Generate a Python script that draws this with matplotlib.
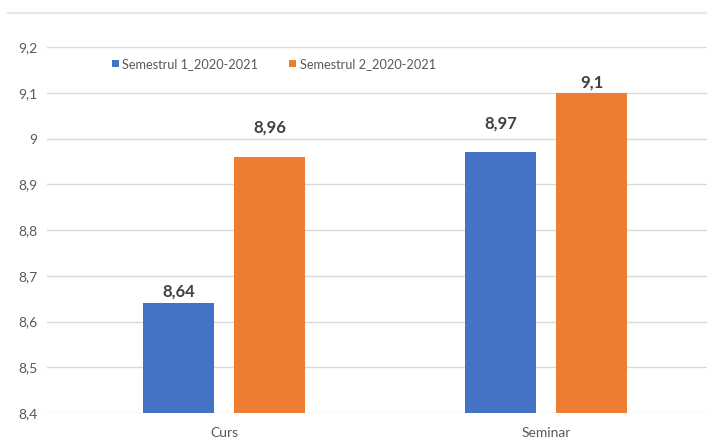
import matplotlib.pyplot as plt
import numpy as np

plt.rcParams['font.family'] = ['Lato', 'DejaVu Sans']

categories = ['Curs', 'Seminar']
series_names = ['Semestrul 1_2020-2021', 'Semestrul 2_2020-2021']
sem1 = [8.64, 8.97]
sem2 = [8.96, 9.1]
yticks = [8.4, 8.5, 8.6, 8.7, 8.8, 8.9, 9.0, 9.1, 9.2]

# label offsets above each bar (points), as placed in the original
sem1_label_off = [3, 15]
sem2_label_off = [15, 1.5]


def fmt(v):
    return ('%g' % v).replace('.', ',')


def main():
    fig = plt.figure(figsize=(7.07, 4.47), dpi=100)
    ax = fig.add_axes([47 / 707, 1 - 413 / 447, 1 - 47 / 707, 366 / 447])

    x = np.arange(len(categories))
    w = 0.22
    off = 0.1415
    colors = ['#4472C4', '#ED7D31']
    for vals, offs, name, dx, c in [
            (sem1, sem1_label_off, series_names[0], -off, colors[0]),
            (sem2, sem2_label_off, series_names[1], off, colors[1])]:
        bars = ax.bar(x + dx, np.array(vals) - 8.4, w, bottom=8.4,
                      color=c, label=name, zorder=3)
        for b, v, o in zip(bars, vals, offs):
            ax.annotate(fmt(v), (b.get_x() + b.get_width() / 2, v),
                        xytext=(0, o), textcoords='offset points',
                        ha='center', va='bottom', fontsize=12,
                        fontweight='bold', color='#404040')

    ax.set_ylim(8.4, 9.2)
    ax.set_xlim(-0.55, 1.5)
    ax.set_yticks(yticks)
    ax.set_yticklabels([fmt(t) for t in yticks])
    ax.set_xticks(x)
    ax.set_xticklabels(categories)
    ax.tick_params(axis='both', length=0, colors='#595959', labelsize=10)
    ax.tick_params(axis='y', pad=7)
    ax.tick_params(axis='x', pad=10)
    ax.grid(axis='y', color='#D9D9D9', linewidth=1, zorder=0)
    for s in ax.spines.values():
        s.set_visible(False)

    fig.add_artist(plt.Line2D([8 / 707, 1], [1 - 13 / 447] * 2,
                              color='#E6E6E6', linewidth=1.5))

    fig.legend(loc='center left', bbox_to_anchor=(100 / 707, 1 - 64 / 447),
               ncol=2, frameon=False, fontsize=9.2, handlelength=0.55,
               handleheight=0.55, handletextpad=0.3, columnspacing=2.4,
               labelcolor='#595959')

    fig.savefig('out.png', dpi=100)


if __name__ == "__main__":
    main()
